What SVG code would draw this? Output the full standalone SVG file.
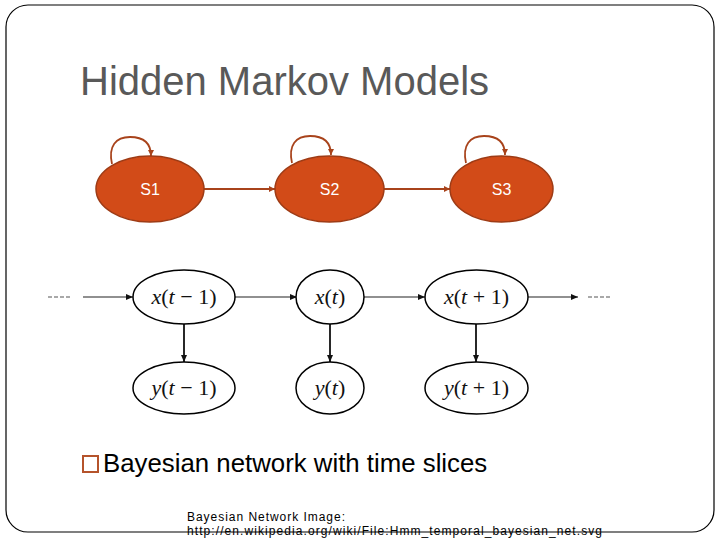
<svg xmlns="http://www.w3.org/2000/svg" width="720" height="540" viewBox="0 0 720 540">
<style>
.st{fill:#D24B18;stroke:#9E3B15;stroke-width:1.5}
.sl{font-family:"Liberation Sans",Arial,sans-serif;font-size:16px;fill:#FFFFFF;text-anchor:middle}
.oe{fill:none;stroke:#A8431B;stroke-width:1.8}
.bn{fill:#FFFFFF;stroke:#000000;stroke-width:1.5}
.ml{font-family:"Liberation Serif","Times New Roman",serif;font-size:22px;fill:#111111;text-anchor:middle}
.ha{fill:none;stroke:#222222;stroke-width:1.1}
.va{fill:none;stroke:#111111;stroke-width:1.8}
.dash{fill:none;stroke:#555555;stroke-width:1.1;stroke-dasharray:4,2}
.i{font-style:italic}
</style>
<defs>
<marker id="oa" markerWidth="8" markerHeight="8" refX="6" refY="4" orient="auto" markerUnits="userSpaceOnUse">
<path d="M0,1 L6,4 L0,7 Z" fill="#A8431B"/>
</marker>
<marker id="ba" markerWidth="10" markerHeight="8" refX="7" refY="4" orient="auto" markerUnits="userSpaceOnUse">
<path d="M0,1 L7,4 L0,7 Z" fill="#111111"/>
</marker>
</defs>
<rect width="720" height="540" fill="#FFFFFF"/>
<text x="80" y="95" font-family="Liberation Sans,Arial,sans-serif" font-size="40" fill="#595959">Hidden Markov Models</text>

<g id="connectors">
<path class="oe" d="M204,189 L275,189" marker-end="url(#oa)"/>
<path class="oe" d="M384,189 L450,189" marker-end="url(#oa)"/>
<path class="oe" d="M112,164 C108,146 116,137 130,137 C144,137 151,143 151,156" marker-end="url(#oa)"/>
<path class="oe" d="M292,163 C288,145 296,136 310,136 C324,136 331,142 331,155" marker-end="url(#oa)"/>
<path class="oe" d="M466,163 C462,145 470,136 484,136 C498,136 505,142 505,155" marker-end="url(#oa)"/>
<path class="dash" d="M48,297 L72,297"/>
<path class="dash" d="M588,297 L612,297"/>
<path class="ha" d="M83,297 L133,297" marker-end="url(#ba)"/>
<path class="ha" d="M235,297 L297,297" marker-end="url(#ba)"/>
<path class="ha" d="M364,297 L425,297" marker-end="url(#ba)"/>
<path class="ha" d="M528,297 L578,297" marker-end="url(#ba)"/>
<path class="va" d="M184,324 L184,362" marker-end="url(#ba)"/>
<path class="va" d="M330,324 L330,362" marker-end="url(#ba)"/>
<path class="va" d="M476,324 L476,362" marker-end="url(#ba)"/>
</g>

<g id="S1"><ellipse class="st" cx="150" cy="189" rx="54" ry="33"/><text class="sl" x="150" y="195">S1</text></g>
<g id="S2"><ellipse class="st" cx="329.5" cy="189" rx="54.5" ry="33"/><text class="sl" x="329.5" y="195">S2</text></g>
<g id="S3"><ellipse class="st" cx="501.5" cy="189" rx="51.5" ry="33"/><text class="sl" x="501.5" y="195">S3</text></g>

<g id="xtm1"><ellipse class="bn" cx="184" cy="297" rx="51" ry="27"/><text class="ml" x="184" y="304"><tspan class="i">x</tspan>(<tspan class="i">t</tspan> − 1)</text></g>
<g id="xt"><ellipse class="bn" cx="330" cy="297" rx="34" ry="27"/><text class="ml" x="330" y="304"><tspan class="i">x</tspan>(<tspan class="i">t</tspan>)</text></g>
<g id="xtp1"><ellipse class="bn" cx="476.5" cy="297" rx="51.5" ry="27"/><text class="ml" x="476.5" y="304"><tspan class="i">x</tspan>(<tspan class="i">t</tspan> + 1)</text></g>
<g id="ytm1"><ellipse class="bn" cx="184" cy="388" rx="51" ry="26"/><text class="ml" x="184" y="395"><tspan class="i">y</tspan>(<tspan class="i">t</tspan> − 1)</text></g>
<g id="yt"><ellipse class="bn" cx="330" cy="388" rx="34" ry="26"/><text class="ml" x="330" y="395"><tspan class="i">y</tspan>(<tspan class="i">t</tspan>)</text></g>
<g id="ytp1"><ellipse class="bn" cx="476.5" cy="388" rx="51.5" ry="26"/><text class="ml" x="476.5" y="395"><tspan class="i">y</tspan>(<tspan class="i">t</tspan> + 1)</text></g>

<rect x="83" y="456" width="15" height="16" fill="none" stroke="#B5532B" stroke-width="2"/>
<text x="103" y="472" font-family="Liberation Sans,Arial,sans-serif" font-size="25.8" fill="#000000">Bayesian network with time slices</text>
<text x="187" y="521" font-family="Liberation Sans,Arial,sans-serif" font-size="12" fill="#000000" textLength="158" lengthAdjust="spacing">Bayesian Network Image:</text>
<text x="187" y="535" font-family="Liberation Sans,Arial,sans-serif" font-size="12" fill="#000000" textLength="415" lengthAdjust="spacing">http://en.wikipedia.org/wiki/File:Hmm_temporal_bayesian_net.svg</text>

<rect x="6" y="5" width="708" height="527" rx="22" ry="22" fill="none" stroke="#000000" stroke-width="1.2"/>
</svg>
